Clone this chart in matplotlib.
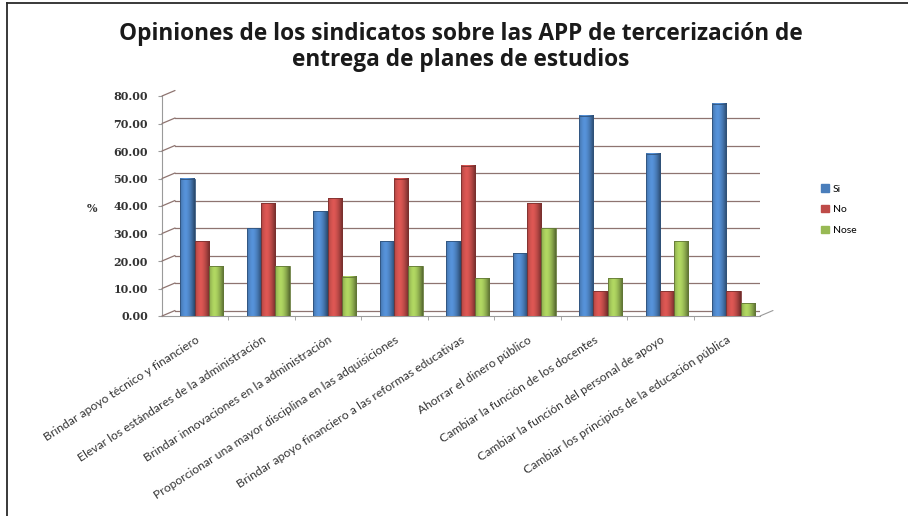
import numpy as np
import matplotlib
matplotlib.use("Agg")
import matplotlib.pyplot as plt
from matplotlib.transforms import ScaledTranslation
from matplotlib.lines import Line2D
from matplotlib.patches import Patch

categories = [
    "Brindar apoyo técnico y financiero",
    "Elevar los estándares de la administración",
    "Brindar innovaciones en la administración",
    "Proporcionar una mayor disciplina en las adquisiciones",
    "Brindar apoyo financiero a las reformas educativas",
    "Ahorrar el dinero público",
    "Cambiar la función de los docentes",
    "Cambiar la función del personal de apoyo",
    "Cambiar los principios de la educación pública",
]
si = [50.00, 31.82, 38.10, 27.27, 27.27, 22.73, 72.73, 59.09, 77.27]
no = [27.27, 40.91, 42.86, 50.00, 54.55, 40.91, 9.09, 9.09, 9.09]
nose = [18.18, 18.18, 14.29, 18.18, 13.64, 31.82, 13.64, 27.27, 4.55]
series = [("Si", si, "#4a7ebb"), ("No", no, "#be4b48"), ("Nose", nose, "#98b954")]
yticks = np.arange(0, 81, 10)

fig = plt.figure(figsize=(9.08, 5.16), dpi=100)
fig.patch.set_facecolor("white")

# page frame (top and left edges only)
fig.add_artist(Line2D([6.5 / 908, 1], [1 - 2.5 / 516] * 2, color="#2a2a2a", lw=1.3))
fig.add_artist(Line2D([6.5 / 908] * 2, [0, 1 - 2.5 / 516], color="#2a2a2a", lw=1.3))

ax = fig.add_axes([162 / 908, 1 - 316 / 516, 598 / 908, 220 / 516])
for s in ax.spines.values():
    s.set_visible(False)

# back wall of the pseudo-3D box
grid_c = "#8e7470"
back = ax.transData + ScaledTranslation(0.13, 0.055, fig.dpi_scale_trans)
x0, x1 = -0.5, len(categories) - 0.5
for v in yticks:
    ax.plot([x0, x1], [v, v], color=grid_c, lw=0.9, transform=back, zorder=1)
    # left wall diagonal
    ax.annotate("", xy=(x0, v), xycoords=back, xytext=(x0, v), textcoords="data",
                arrowprops=dict(arrowstyle="-", color=grid_c, lw=0.9, shrinkA=0, shrinkB=0))
ax.annotate("", xy=(x1, 0), xycoords=back, xytext=(x1, 0), textcoords="data",
            arrowprops=dict(arrowstyle="-", color="#9a9a9a", lw=0.8, shrinkA=0, shrinkB=0))
ax.plot([x0, x1], [0, 0], color="#9a9a9a", lw=0.8, zorder=1, clip_on=False)
ax.plot([x0, x0], [0, 80], color="#9a9a9a", lw=0.8, zorder=1, clip_on=False)

# cylinder-like shaded bars
width = 0.215
shift = 0.1
for i, (name, vals, col) in enumerate(series):
    base = np.array(matplotlib.colors.to_rgb(col))
    prof = np.linspace(-1, 1, 40)
    light = 1 - np.abs(prof + 0.25) ** 1.6
    grad = np.clip(base[None, :] * (0.75 + 0.42 * light[:, None]), 0, 1)
    for j, v in enumerate(vals):
        left = j + shift + (i - 1) * width - width / 2
        ax.imshow(grad[None, :, :], extent=(left, left + width, 0, v), aspect="auto",
                  zorder=3, interpolation="bilinear")
        ax.bar(left + width / 2, v, width=width, facecolor="none",
               edgecolor=base * 0.65, lw=0.6, zorder=4)
ax.set_xlim(-0.5, len(categories) - 0.5)
ax.set_ylim(0, 80)

ax.set_yticks(yticks)
ax.set_yticklabels([f"{t:.2f}" for t in yticks], fontfamily="DejaVu Serif",
                   fontweight="bold", fontsize=8, color="#333333")
ax.tick_params(axis="y", length=3, color="#9a9a9a", pad=7)
ax.set_xticks(range(len(categories)))
ax.set_xticklabels(categories, rotation=33, ha="right", rotation_mode="anchor",
                   fontfamily="Lato", fontsize=8.7, color="#333333")
ax.tick_params(axis="x", which="major", length=0, pad=13)
ax.set_xticks(np.arange(0.5, len(categories) - 0.5, 1), minor=True)
ax.tick_params(axis="x", which="minor", length=3, color="#9a9a9a")

fig.text(92 / 908, 1 - 208 / 516, "%", fontfamily="DejaVu Serif", fontweight="bold",
         fontsize=8, ha="center", va="center", color="#333333")

fig.text(461 / 908, 1 - 47 / 516,
         "Opiniones de los sindicatos sobre las APP de tercerización de\nentrega de planes de estudios",
         ha="center", va="center", fontfamily="Open Sans", fontweight="bold",
         fontsize=16.3, linespacing=1.1, color="#1a1a1a")

handles = [Patch(facecolor=c, edgecolor=c) for _, _, c in series]
fig.legend(handles, [n for n, _, _ in series], loc="upper left",
           bbox_to_anchor=(812 / 908, 1 - 175 / 516), frameon=False,
           handlelength=0.7, handleheight=0.7, handletextpad=0.4, labelspacing=1.1,
           prop={"family": "Lato", "size": 7.5})

fig.savefig("out.png", dpi=100)
